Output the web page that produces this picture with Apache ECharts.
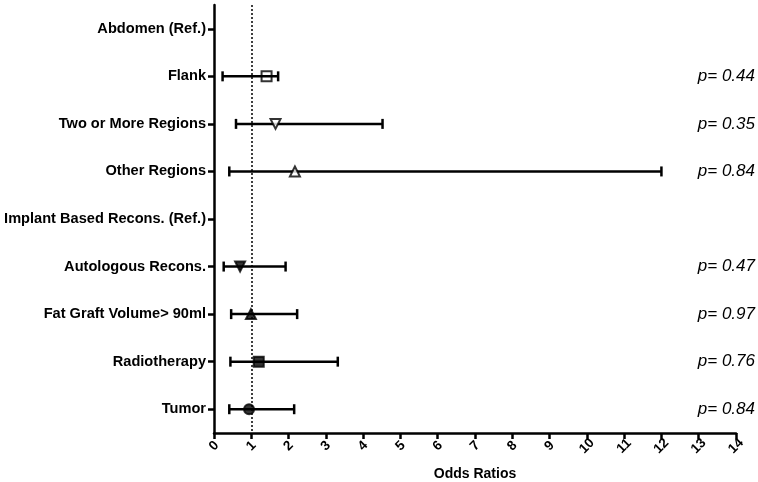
<!DOCTYPE html>
<html>
<head>
<meta charset="utf-8">
<script src="https://cdn.jsdelivr.net/npm/echarts@6/dist/echarts.min.js"></script>
<style>html,body{margin:0;padding:0;background:#fff}#c{width:758px;height:482px}</style>
</head>
<body>
<div id="c"></div>
<script>
var categories = ['Abdomen (Ref.)', 'Flank', 'Two or More Regions', 'Other Regions', 'Implant Based Recons. (Ref.)', 'Autologous Recons.', 'Fat Graft Volume> 90ml', 'Radiotherapy', 'Tumor'];
var estimate = [null, 1.41, 1.65, 2.17, null, 0.70, 0.99, 1.20, 0.94];
var lower    = [null, 0.23, 0.59, 0.41, null, 0.26, 0.46, 0.44, 0.41];
var upper    = [null, 1.72, 4.52, 12.0, null, 1.92, 2.23, 3.32, 2.15];
var pValues  = ['', 'p= 0.44', 'p= 0.35', 'p= 0.84', '', 'p= 0.47', 'p= 0.97', 'p= 0.76', 'p= 0.84'];
var xTicks = [0, 1, 2, 3, 4, 5, 6, 7, 8, 9, 10, 11, 12, 13, 14];
var refLine = 1;

var markerStyles = [
  null,
  {symbol: 'rect', rot: 0, fill: 'rgba(0,0,0,0)'},
  {symbol: 'triangle', rot: 180, fill: '#fff'},
  {symbol: 'triangle', rot: 0, fill: '#fff'},
  null,
  {symbol: 'triangle', rot: 180, fill: '#000'},
  {symbol: 'triangle', rot: 0, fill: '#000'},
  {symbol: 'rect', rot: 0, fill: '#000'},
  {symbol: 'circle', rot: 0, fill: '#000'}
];

var font = '"Liberation Sans", Arial, sans-serif';
var chart = echarts.init(document.getElementById('c'), null, {renderer: 'canvas'});

var barData = [];
var pointData = [];
var pData = [];
categories.forEach(function (c, i) {
  if (estimate[i] != null) {
    barData.push([lower[i], upper[i], i]);
    var ms = markerStyles[i];
    pointData.push({
      value: [estimate[i], i],
      symbol: ms.symbol,
      symbolRotate: ms.rot,
      itemStyle: {color: ms.fill, borderColor: '#000', borderWidth: 2}
    });
  }
  if (pValues[i]) pData.push([i, pValues[i]]);
});

var option = {
  animation: false,
  grid: {left: 214, right: 22, top: 5, bottom: 49, containLabel: false, outerBoundsMode: 'none'},
  xAxis: {
    type: 'value', min: 0, max: 14, interval: 1,
    name: 'Odds Ratios', nameLocation: 'middle', nameGap: 34,
    nameTextStyle: {fontFamily: font, fontWeight: 'bold', fontSize: 14, color: '#000'},
    axisLine: {show: true, lineStyle: {color: '#000', width: 2.5}},
    axisTick: {show: true, length: 6, lineStyle: {color: '#000', width: 2.5}},
    axisLabel: {rotate: 45, align: 'center', verticalAlign: 'middle', fontFamily: font, fontWeight: 'bold', fontSize: 13.5, color: '#000', margin: 13,
      formatter: function (v) { return xTicks.indexOf(v) >= 0 ? String(v) : ''; }},
    splitLine: {show: false}
  },
  yAxis: {
    type: 'category', data: categories, inverse: true, boundaryGap: true,
    axisLine: {show: true, lineStyle: {color: '#000', width: 2.5}},
    axisTick: {show: true, alignWithLabel: true, length: 6, lineStyle: {color: '#000', width: 2.5}},
    axisLabel: {fontFamily: font, fontWeight: 'bold', fontSize: 14.6, color: '#000', margin: 8},
    splitLine: {show: false}
  },
  series: [
    {
      type: 'line', data: [], silent: true,
      markLine: {
        silent: true, symbol: 'none', label: {show: false},
        lineStyle: {type: [2, 2], color: '#000', width: 1.5},
        data: [{xAxis: refLine}]
      }
    },
    {
      type: 'custom', silent: true,
      data: barData,
      encode: {x: [0, 1], y: 2},
      renderItem: function (params, api) {
        var lo = api.coord([api.value(0), api.value(2)]);
        var hi = api.coord([api.value(1), api.value(2)]);
        var h = 5;
        var st = {stroke: '#000', lineWidth: 2.5};
        return {
          type: 'group',
          children: [
            {type: 'line', shape: {x1: lo[0], y1: lo[1], x2: hi[0], y2: hi[1]}, style: st},
            {type: 'line', shape: {x1: lo[0], y1: lo[1] - h, x2: lo[0], y2: lo[1] + h}, style: st},
            {type: 'line', shape: {x1: hi[0], y1: hi[1] - h, x2: hi[0], y2: hi[1] + h}, style: st}
          ]
        };
      }
    },
    {
      type: 'scatter', silent: true, symbolSize: 10, z: 5,
      data: pointData
    },
    {
      type: 'custom', silent: true,
      data: pData,
      encode: {y: 0},
      renderItem: function (params, api) {
        var p = api.coord([0, api.value(0)]);
        return {
          type: 'text',
          style: {
            x: 755, y: p[1], text: pData[params.dataIndex][1],
            textAlign: 'right', textVerticalAlign: 'middle',
            font: 'italic 17px "Liberation Sans", Arial, sans-serif', fill: '#000'
          }
        };
      }
    }
  ]
};
chart.setOption(option);
</script>
</body>
</html>
